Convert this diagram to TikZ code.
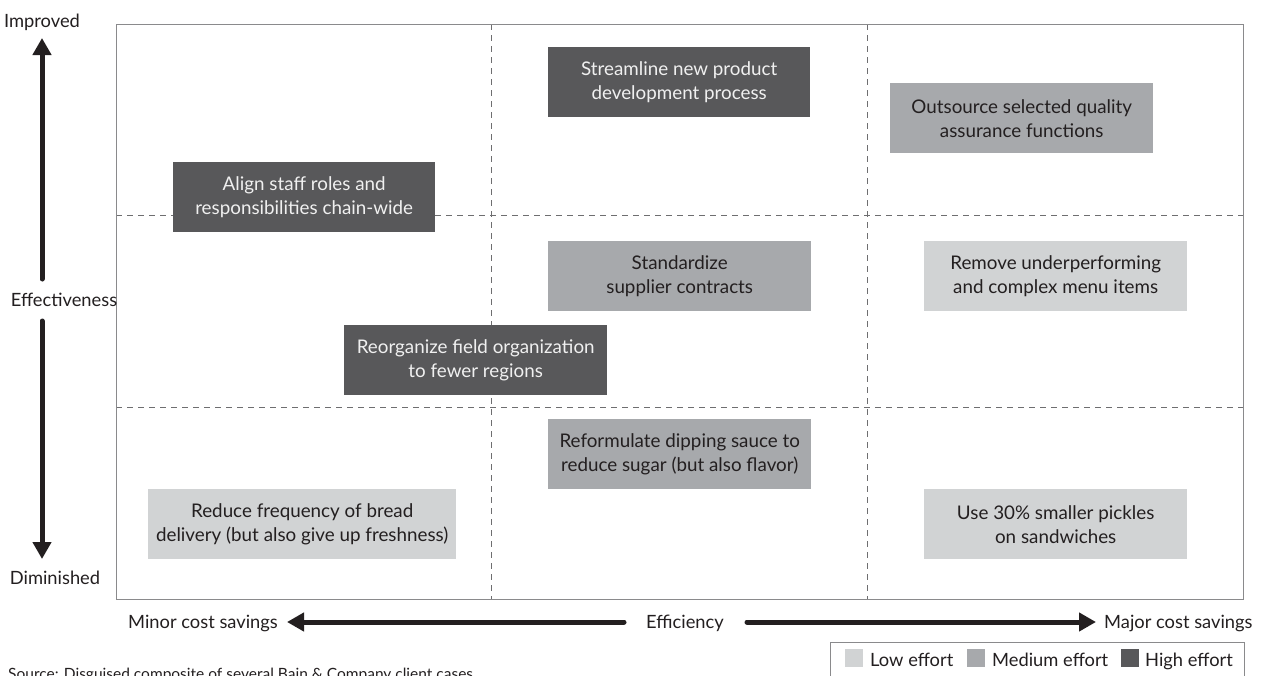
\documentclass[tikz,border=0pt]{standalone}
\usepackage{fontspec}
\setmainfont{Lato}
\usetikzlibrary{arrows.meta}
\definecolor{cdark}{HTML}{58585A}
\definecolor{cmed}{HTML}{A7A9AC}
\definecolor{clight}{HTML}{D1D3D4}
\definecolor{ctext}{HTML}{231F20}
\definecolor{cframe}{HTML}{8A8A8C}
\definecolor{cdash}{HTML}{6E6E70}
\tikzset{
  card/.style={rectangle, inner sep=0pt, anchor=north west, align=center,
    font=\fontsize{18.8}{24}\selectfont},
  high/.style={card, fill=cdark, text=white!94!black},
  medium/.style={card, fill=cmed, text=ctext},
  low/.style={card, fill=clight, text=ctext},
  grid/.style={draw=cdash, line width=1pt, dash pattern=on 6pt off 5pt},
  axis/.style={draw=ctext, line width=5pt, line cap=round,
    -{Triangle[width=18pt,length=17pt]}, fill=ctext},
  lbl/.style={text=ctext, inner sep=0pt, font=\fontsize{18.3}{20}\selectfont},
  sw/.style={fill=#1, minimum width=18pt, minimum height=18pt, inner sep=0pt}
}
\begin{document}
\begin{tikzpicture}[x=1pt,y=-1pt]
\useasboundingbox (0,0) rectangle (1261,675);
\clip (0,0) rectangle (1261,675);
\fill[white] (0,0) rectangle (1261,675);
% frame and grid
\draw[grid] (491,24) -- (491,599);
\draw[grid] (867,24) -- (867,599);
\draw[grid] (116,215) -- (1243,215);
\draw[grid] (116,407) -- (1243,407);
\draw[cframe, line width=1pt] (116,24) rectangle (1243,599);
% cards
\node[high, minimum width=262pt, minimum height=70pt] (c1) at (548,47) {Streamline new product\\development process};
\node[medium, minimum width=263pt, minimum height=70pt] (c2) at (890,83) {Outsource selected quality\\assurance functions};
\node[high, minimum width=262pt, minimum height=70pt] (c3) at (173,162) {Align staff roles and\\responsibilities chain-wide};
\node[medium, minimum width=263pt, minimum height=70pt] (c4) at (548,241) {Standardize\\supplier contracts};
\node[low, minimum width=263pt, minimum height=70pt] (c5) at (924,241) {Remove underperforming\\and complex menu items};
\node[high, minimum width=263pt, minimum height=70pt] (c6) at (344,325) {Reorganize field organization\\to fewer regions};
\node[medium, minimum width=263pt, minimum height=70pt] (c7) at (548,419) {Reformulate dipping sauce to\\reduce sugar (but also flavor)};
\node[low, minimum width=308pt, minimum height=70pt] (c8) at (148,489) {Reduce frequency of bread\\delivery (but also give up freshness)};
\node[low, minimum width=263pt, minimum height=70pt] (c9) at (924,489) {Use 30\% smaller pickles\\on sandwiches};
% vertical axis
\node[lbl, anchor=base] (imp) at (42,27) {Improved};
\node[lbl, anchor=base] (eff) at (64,306) {Effectiveness};
\node[lbl, anchor=base] (dim) at (55,584) {Diminished};
\coordinate (vt) at (42,38);
\coordinate (vu) at (42,279);
\coordinate (vl) at (42,321);
\coordinate (vb) at (42,559);
\draw[axis] (vu) -- (vt);
\draw[axis] (vl) -- (vb);
% horizontal axis
\node[lbl, anchor=base west] (minor) at (128,628) {Minor cost savings};
\node[lbl, anchor=base] (effi) at (685,628) {Efficiency};
\node[lbl, anchor=base west] (major) at (1104,628) {Major cost savings};
\coordinate (hl) at (287,622);
\coordinate (hm1) at (624,622);
\coordinate (hm2) at (747,622);
\coordinate (hr) at (1096,622);
\draw[axis] (hm1) -- (hl);
\draw[axis] (hm2) -- (hr);
% legend
\draw[cframe, line width=1pt] (830,690) -- (830,642) -- (1244,642) -- (1244,690);
\node[sw=clight, anchor=north west] (s1) at (845,649) {};
\node[lbl, anchor=base west] (l1) at (870,666) {Low effort};
\node[sw=cmed, anchor=north west] (s2) at (967,649) {};
\node[lbl, anchor=base west] (l2) at (992,666) {Medium effort};
\node[sw=cdark, anchor=north west] (s3) at (1121,649) {};
\node[lbl, anchor=base west] (l3) at (1145,666) {High effort};
% source
\node[text=ctext, inner sep=0pt, anchor=base west, font=\fontsize{15.5}{18}\selectfont] (src) at (8,679) {Source: Disguised composite of several Bain \& Company client cases};
\end{tikzpicture}
\end{document}
